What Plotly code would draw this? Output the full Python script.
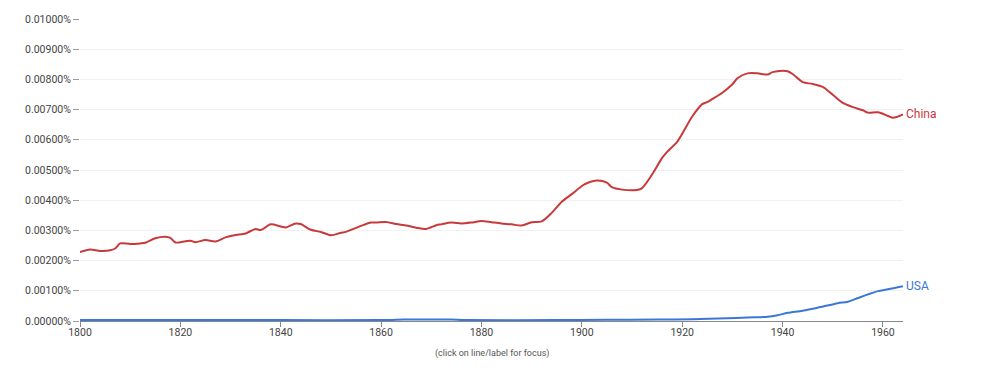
import plotly.graph_objects as go

china_years = [1800, 1802, 1804, 1806, 1807, 1808, 1810, 1812, 1813, 1815, 1817, 1818, 1819,
               1821, 1822, 1823, 1825, 1827, 1829, 1831, 1833, 1835, 1836, 1838, 1840, 1841,
               1843, 1844, 1846, 1848, 1850, 1852, 1853, 1856, 1858, 1859, 1861, 1863, 1865,
               1867, 1869, 1871, 1872, 1874, 1876, 1878, 1880, 1882, 1884, 1886, 1888, 1890,
               1892, 1894, 1896, 1898, 1900, 1901, 1903, 1905, 1906, 1908, 1911, 1912, 1914,
               1916, 1917, 1919, 1920, 1922, 1924, 1925, 1926, 1928, 1930, 1931, 1933, 1935,
               1937, 1938, 1940, 1941, 1942, 1944, 1946, 1948, 1950, 1952, 1954, 1956, 1957,
               1959, 1961, 1962, 1964]
china = [0.00228, 0.00237, 0.00232, 0.00234, 0.00240, 0.00257, 0.00255, 0.00257, 0.00259,
         0.00274, 0.00279, 0.00275, 0.00260, 0.00264, 0.00266, 0.00261, 0.00268, 0.00263,
         0.00277, 0.00285, 0.00290, 0.00305, 0.00301, 0.00320, 0.00313, 0.00310, 0.00323,
         0.00321, 0.00302, 0.00295, 0.00284, 0.00292, 0.00295, 0.00315, 0.00326, 0.00326,
         0.00328, 0.00321, 0.00316, 0.00309, 0.00305, 0.00317, 0.00320, 0.00326, 0.00323,
         0.00326, 0.00331, 0.00327, 0.00323, 0.00320, 0.00316, 0.00327, 0.00330, 0.00358,
         0.00395, 0.00420, 0.00447, 0.00456, 0.00465, 0.00458, 0.00443, 0.00435, 0.00434,
         0.00440, 0.00485, 0.00540, 0.00560, 0.00593, 0.00620, 0.00677, 0.00718, 0.00725,
         0.00735, 0.00756, 0.00784, 0.00804, 0.00820, 0.00820, 0.00816, 0.00824, 0.00829,
         0.00827, 0.00818, 0.00791, 0.00785, 0.00775, 0.00749, 0.00722, 0.00708, 0.00698,
         0.00690, 0.00691, 0.00679, 0.00673, 0.00684]

usa_years = [1800, 1820, 1840, 1860, 1863, 1866, 1870, 1874, 1877, 1895, 1905, 1915, 1922,
             1929, 1933, 1937, 1939, 1941, 1944, 1947, 1951, 1953, 1955, 1957, 1959, 1961,
             1964]
usa = [0.00003, 0.00003, 0.00003, 0.00003, 0.00004, 0.00005, 0.00005, 0.00005, 0.00003,
       0.00003, 0.00004, 0.00005, 0.00006, 0.00009, 0.00012, 0.00014, 0.00019, 0.00027,
       0.00034, 0.00044, 0.00059, 0.00064, 0.00076, 0.00088, 0.00099, 0.00105, 0.00115]

y_ticks = [0.0, 0.001, 0.002, 0.003, 0.004, 0.005, 0.006, 0.007, 0.008, 0.009, 0.01]
y_tick_labels = ["0.00000%", "0.00100%", "0.00200%", "0.00300%", "0.00400%", "0.00500%",
                 "0.00600%", "0.00700%", "0.00800%", "0.00900%", "0.01000%"]
x_ticks = [1800, 1820, 1840, 1860, 1880, 1900, 1920, 1940, 1960]

RED = "#c8393a"
BLUE = "#3a77d6"

fig = go.Figure()
fig.add_trace(go.Scatter(x=china_years, y=china, mode="lines", name="China",
                         line=dict(color=RED, width=2, shape="spline", smoothing=0.8),
                         hoverinfo="skip"))
fig.add_trace(go.Scatter(x=usa_years, y=usa, mode="lines", name="USA",
                         line=dict(color=BLUE, width=2, shape="spline", smoothing=0.8),
                         hoverinfo="skip"))

fig.add_annotation(x=china_years[-1], y=china[-1], text="China", showarrow=False,
                   xanchor="left", xshift=1, font=dict(color=RED, size=12))
fig.add_annotation(x=usa_years[-1], y=usa[-1], text="USA", showarrow=False,
                   xanchor="left", xshift=1, font=dict(color=BLUE, size=12))
fig.add_annotation(x=0.5, y=-0.109, xref="paper", yref="paper", yanchor="middle",
                   text="(click on line/label for focus)", showarrow=False,
                   font=dict(color="#555555", size=9))

fig.update_layout(
    width=1000, height=384,
    margin=dict(l=72, r=105, t=11, b=71),
    paper_bgcolor="white", plot_bgcolor="white",
    showlegend=False,
    font=dict(family="Roboto, Arial, sans-serif", size=11, color="#555555"),
    xaxis=dict(range=[1800, 1964], tickvals=x_ticks, ticks="outside", ticklen=5,
               tickcolor="#888888", showline=True, linecolor="#888888", linewidth=1,
               showgrid=False, zeroline=False, ticklabelstandoff=-4,
               tickfont=dict(size=10.5, color="#444444")),
    yaxis=dict(range=[0, 0.01], tickvals=y_ticks, ticktext=y_tick_labels,
               ticks="outside", ticklen=6, tickcolor="#999999", showline=False,
               showgrid=True, gridcolor="#f1f1f1", zeroline=False, automargin=False,
               tickfont=dict(size=10.5, color="#444444")),
)

fig.write_html("out.html")
